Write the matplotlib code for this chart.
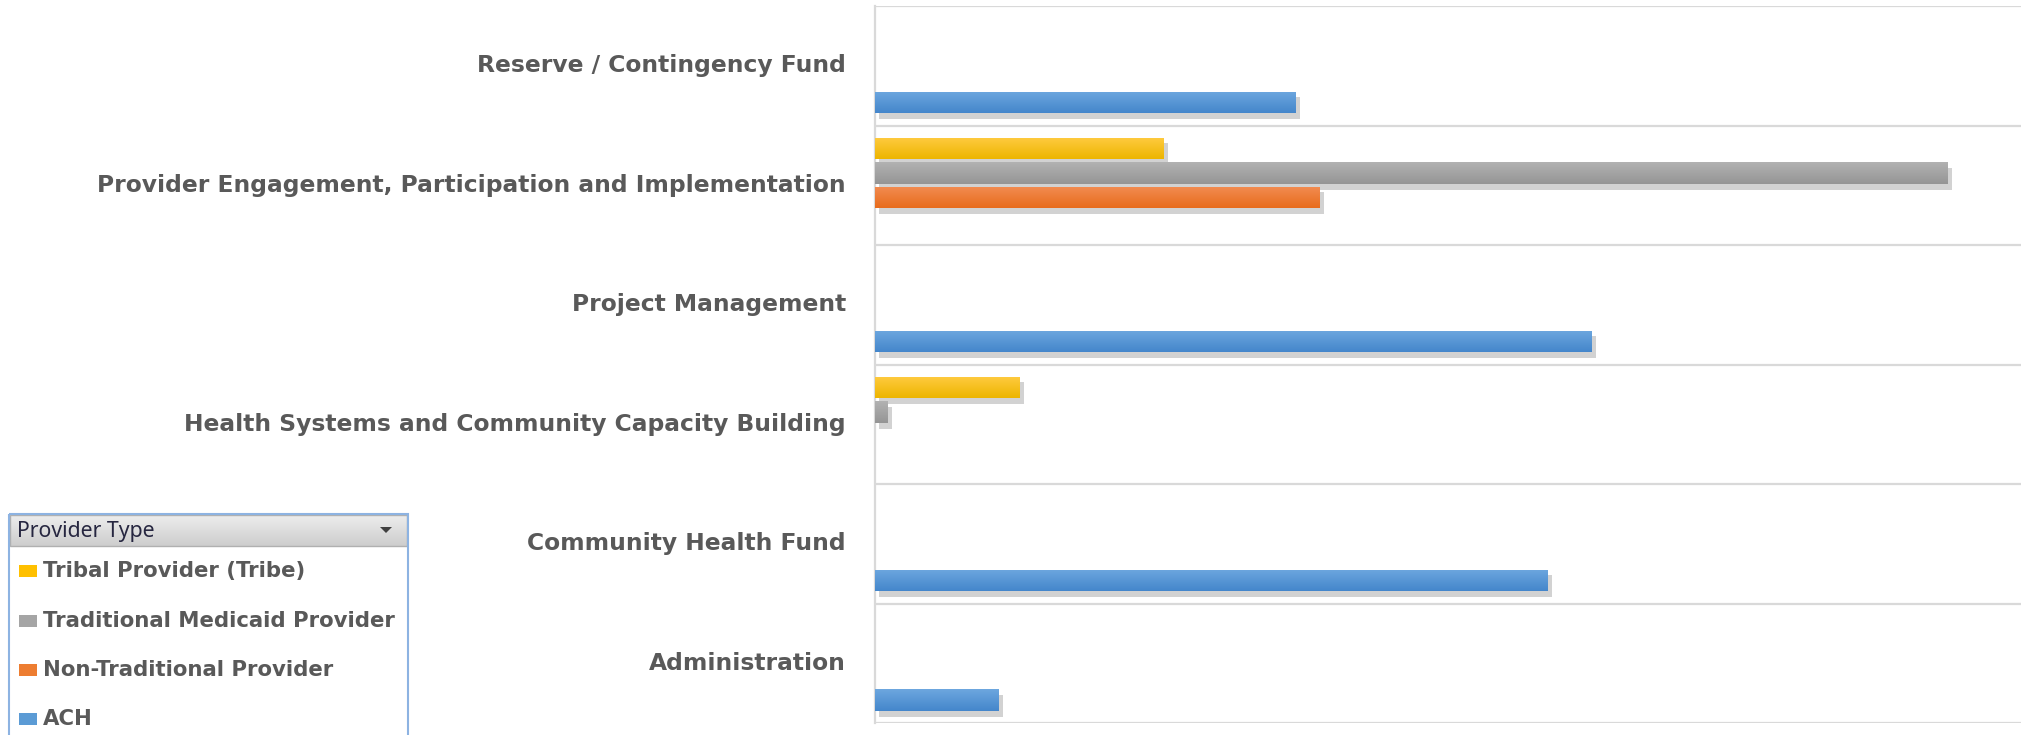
import matplotlib
matplotlib.use("Agg")
import matplotlib.pyplot as plt
import matplotlib.patheffects as pe
from matplotlib.patches import Rectangle, Polygon
from matplotlib.colors import LinearSegmentedColormap
import numpy as np

# ---------------- data ----------------
categories = [
    "Reserve / Contingency Fund",
    "Provider Engagement, Participation and Implementation",
    "Project Management",
    "Health Systems and Community Capacity Building",
    "Community Health Fund",
    "Administration",
]
series_names = ["Tribal Provider (Tribe)", "Traditional Medicaid Provider",
                "Non-Traditional Provider", "ACH"]
series_colors = ["#FFC000", "#A5A5A5", "#ED7D31", "#5B9BD5"]
grad_top = ["#FFCB40", "#B2B2B2", "#F28C52", "#6DA7DF"]
grad_bot = ["#EDB500", "#959595", "#E86C1C", "#4486CB"]

tribe_vals       = [0, 289, 0, 145, 0, 0]
traditional_vals = [0, 1073, 0, 13, 0, 0]
nontrad_vals     = [0, 445, 0, 0, 0, 0]
ach_vals         = [421, 0, 717, 0, 673, 124]
series_vals = [tribe_vals, traditional_vals, nontrad_vals, ach_vals]
x_max = 1146

# ---------------- figure ----------------
W, H = 2021, 735
fig = plt.figure(figsize=(W / 100, H / 100), dpi=100)
fig.patch.set_facecolor("white")

ax_left, ax_right = 875 / W, 1.0
ax_bottom, ax_top = 1 - 723 / H, 1 - 6 / H
ax = fig.add_axes([ax_left, ax_bottom, ax_right - ax_left, ax_top - ax_bottom])

n = len(categories)
ypos = np.arange(n)[::-1]  # first category on top
step = 0.205
bar_h = 0.184
offsets = [1.5 * step, 0.5 * step, -0.5 * step, -1.5 * step]

shadow = [pe.SimplePatchShadow(offset=(3, -4), shadow_rgbFace="#808080", alpha=0.35),
          pe.Normal()]
grad = np.linspace(0, 1, 64).reshape(-1, 1)
for i, (name, vals, col, off) in enumerate(zip(series_names, series_vals, series_colors, offsets)):
    bars = ax.barh(ypos + off, vals, height=bar_h, color=col, label=name, zorder=3)
    cmap = LinearSegmentedColormap.from_list("c%d" % i, [grad_top[i], grad_bot[i]])
    for b in bars:
        if b.get_width() > 0:
            b.set_path_effects(shadow)
            x0, y0 = b.get_x(), b.get_y()
            im = ax.imshow(grad, extent=(x0, x0 + b.get_width(), y0, y0 + b.get_height()),
                           cmap=cmap, aspect="auto", origin="upper", zorder=3.5,
                           interpolation="bilinear")
            im.set_clip_path(b)

ax.set_xlim(0, x_max)
ax.set_ylim(-0.5, n - 0.5)
ax.set_aspect("auto")
for yb in np.arange(-0.5, n, 1.0):
    ax.axhline(yb, color="#D9D9D9", lw=1.6, zorder=1)
ax.set_xticks([])
ax.set_yticks([])
for s in ["top", "right", "bottom"]:
    ax.spines[s].set_visible(False)
ax.spines["left"].set_color("#D9D9D9")
ax.spines["left"].set_linewidth(1.6)

# category labels
label_font = dict(family=["DejaVu Sans"], fontweight="bold",
                  fontsize=16.8, color="#595959")
fig.canvas.draw()
for cat, y in zip(categories, ypos):
    fig.text(846 / W, ax.transData.transform((0, y))[1] / H, cat,
             ha="right", va="center", **label_font)

# ---------------- legend (slicer-style box) ----------------
ov = fig.add_axes([0, 0, 1, 1], zorder=-1)
ov.set_xlim(0, W)
ov.set_ylim(H, 0)
ov.axis("off")

hgrad = np.linspace(0, 1, 50).reshape(-1, 1)
ov.imshow(hgrad, extent=(10, 407, 546, 515),
          cmap=LinearSegmentedColormap.from_list("g", ["#EDEDED", "#CDCDCD"]),
          aspect="auto", zorder=1)
ov.set_xlim(0, W)
ov.set_ylim(H, 0)
ov.add_patch(Rectangle((10, 515), 397, 31, fill=False, ec="#B0B0B0", lw=1, zorder=2))
ov.add_patch(Rectangle((9, 514), 399, 240, fill=False, ec="#8DB3E2", lw=1.5, zorder=3))
ov.text(17, 531, "Provider Type", fontsize=15.3, color="#262640",
        family=["Noto Sans", "DejaVu Sans"], va="center", ha="left", zorder=4)
ov.add_patch(Polygon([[380, 527], [392, 527], [386, 533]], closed=True,
                     fc="#404040", ec="none", zorder=4))

legend_font = dict(family=["DejaVu Sans"], fontweight="bold",
                   fontsize=15.3, color="#595959")
entry_y = [571, 621, 670, 719]
for i, (name, yy) in enumerate(zip(series_names, entry_y)):
    ov.add_patch(Rectangle((19, yy - 6), 18, 12, fc=series_colors[i], ec="none", zorder=4))
    ov.text(43, yy, name, ha="left", va="center", **legend_font)

fig.savefig("out.png", dpi=100, facecolor="white")
